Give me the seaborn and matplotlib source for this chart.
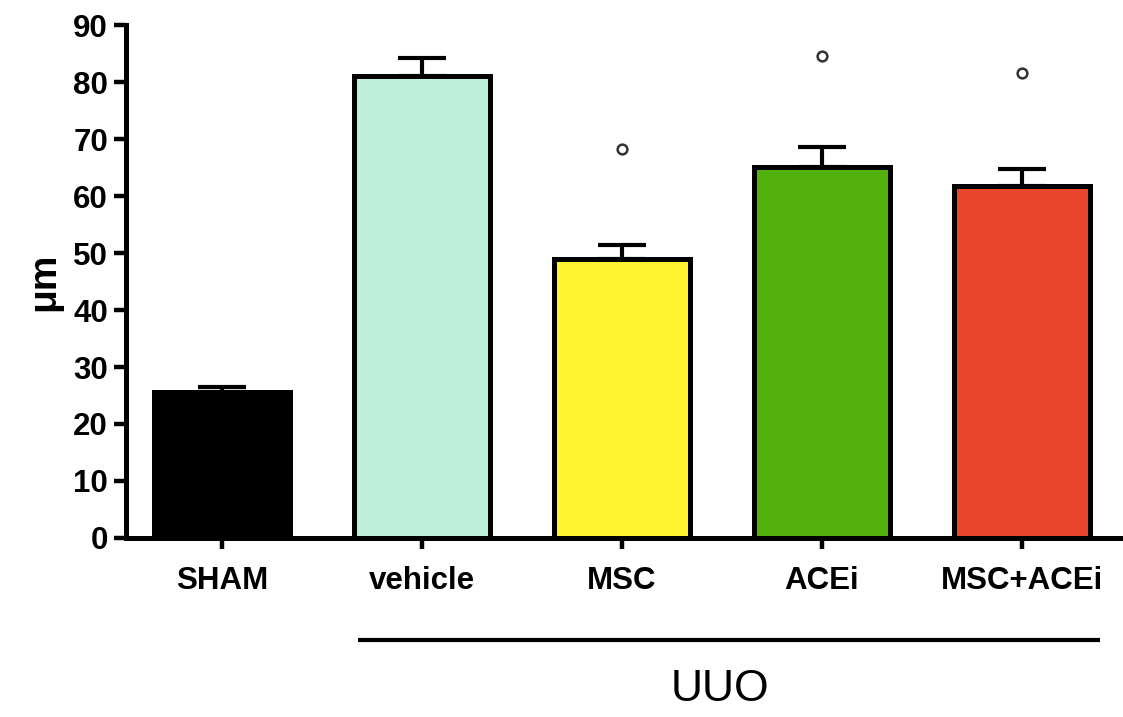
import matplotlib
matplotlib.use("Agg")
import matplotlib.pyplot as plt
import matplotlib.transforms as mtransforms
import seaborn as sns
import pandas as pd

# Group means, SEM and the single marked points per group
groups = ["SHAM", "vehicle", "MSC", "ACEi", "MSC+ACEi"]
means = [25.7, 81.0, 48.9, 65.1, 61.8]
sem = [0.8, 3.3, 2.5, 3.5, 3.0]
marked = [None, None, 68.3, 84.6, 81.6]
colors = ["#000000", "#BDEFDA", "#FFF42E", "#52B20B", "#E8452C"]
yticks = [0, 10, 20, 30, 40, 50, 60, 70, 80, 90]

sns.set_theme(style="ticks")
plt.rcParams["font.family"] = ["Liberation Sans", "DejaVu Sans"]
plt.rcParams["text.color"] = "black"
plt.rcParams["axes.labelcolor"] = "black"
plt.rcParams["xtick.color"] = "black"
plt.rcParams["ytick.color"] = "black"

df = pd.DataFrame({"group": groups, "value": means})

fig = plt.figure(figsize=(11.23, 7.17), dpi=100)
ax = fig.add_axes([0.1122, 0.2497, 0.8848, 0.7153])

sns.barplot(data=df, x="group", y="value", hue="group", palette=colors,
            order=groups, hue_order=groups, legend=False, errorbar=None,
            saturation=1, width=0.68, edgecolor="black", linewidth=3.6,
            ax=ax, zorder=2)

# upper-only SEM whiskers
xs = list(range(len(groups)))
ax.errorbar(xs, means, yerr=[[0] * len(sem), sem], fmt="none", ecolor="black",
            elinewidth=3.0, capsize=17, capthick=3.0, zorder=1)

# single marked values drawn as open circles
mx = [i for i, v in enumerate(marked) if v is not None]
my = [v for v in marked if v is not None]
ax.plot(mx, my, linestyle="none", marker="o", markersize=7,
        markerfacecolor="white", markeredgecolor="#333333",
        markeredgewidth=1.8, zorder=3)

ax.set_ylim(0, 90)
ax.set_xlim(-0.48, 4.49)
ax.set_yticks(yticks)
ax.set_yticklabels([str(t) for t in yticks])
ax.set_xlabel("")
ax.set_ylabel("μm", fontsize=28, fontweight="bold", labelpad=8)

for lab in ax.get_xticklabels() + ax.get_yticklabels():
    lab.set_fontweight("bold")
    lab.set_fontsize(22.5)
    lab.set_color("black")

ax.tick_params(axis="y", length=9, width=3.2, pad=4, color="black")
ax.tick_params(axis="x", length=8, width=3.2, pad=12, color="black")
sns.despine(ax=ax)
for s in ("left", "bottom"):
    ax.spines[s].set_linewidth(3.6)
    ax.spines[s].set_color("black")
    ax.spines[s].set_capstyle("projecting")

# bracket line and label for the UUO groups
trans = mtransforms.blended_transform_factory(ax.transData, ax.transAxes)
ax.plot([0.68, 4.39], [-0.199, -0.199], color="black", linewidth=3.0,
        transform=trans, clip_on=False, solid_capstyle="butt")
ax.text(2.49, -0.295, "UUO", transform=trans, ha="center", va="center",
        fontsize=32, color="black")

fig.savefig("out.png", dpi=100)
